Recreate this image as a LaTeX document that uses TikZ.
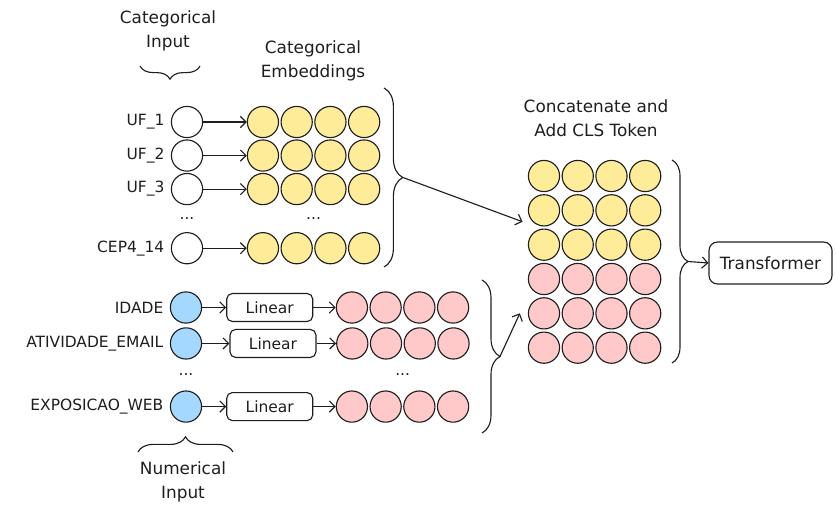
\documentclass[tikz,border=0pt]{standalone}
\usepackage{fontspec}
\setmainfont{DejaVu Sans}
\usepackage{tikz}
\usetikzlibrary{positioning, calc, arrows.meta, decorations.pathreplacing}

\definecolor{ink}{HTML}{1E1E1E}
\definecolor{catyellow}{HTML}{FFEC99}
\definecolor{numpink}{HTML}{FFC9C9}
\definecolor{numblue}{HTML}{A5D8FF}

\begin{document}
\begin{tikzpicture}[
    x=0.025cm, y=-0.025cm,
    every node/.style={text=ink},
    vec/.style={circle, draw=ink, line width=0.8pt, minimum size=0.78cm, inner sep=0pt},
    catvec/.style={vec, fill=white},
    numvec/.style={vec, fill=numblue},
    embcat/.style={vec, fill=catyellow},
    embnum/.style={vec, fill=numpink},
    op/.style={rectangle, rounded corners=4pt, draw=ink, line width=0.8pt, minimum width=2.15cm, minimum height=0.7cm, font=\fontsize{11}{13}\selectfont},
    feat/.style={inner sep=1pt, font=\fontsize{11}{13}\selectfont},
    head/.style={align=center, font=\fontsize{12}{17}\selectfont},
    arr/.style={draw=ink, line width=0.8pt, -{Straight Barb[length=4pt, width=8pt]}},
    brc/.style={draw=ink, line width=0.8pt, decorate, decoration={brace, amplitude=#1}},
    ]
   \useasboundingbox (0,0) rectangle (836,507);

   % Categorical input.
   \node[catvec] (uf1) at (187,122) {};
   \node[catvec, below=0.03cm of uf1] (uf2) {};
   \node[catvec, below=0.03cm of uf2] (uf3) {};
   \node[catvec, below=0.67cm of uf3] (cep) {};
   \node[feat] (catdots) at ($(uf3)!0.5!(cep)$) {...};
   \node[feat, left=0.12cm of uf1] (uf1_l) {UF\_1};
   \node[feat, left=0.12cm of uf2] (uf2_l) {UF\_2};
   \node[feat, left=0.12cm of uf3] (uf3_l) {UF\_3};
   \node[feat, left=0.12cm of cep] (cep_l) {CEP4\_14};

   % Categorical embeddings.
   \node[embcat, right=1.09cm of uf1] (e11) {};
   \node[embcat, right=0.035cm of e11] (e12) {};
   \node[embcat, right=0.035cm of e12] (e13) {};
   \node[embcat, right=0.035cm of e13] (e14) {};
   \node[embcat, right=1.09cm of uf2] (e21) {};
   \node[embcat, right=0.035cm of e21] (e22) {};
   \node[embcat, right=0.035cm of e22] (e23) {};
   \node[embcat, right=0.035cm of e23] (e24) {};
   \node[embcat, right=1.09cm of uf3] (e31) {};
   \node[embcat, right=0.035cm of e31] (e32) {};
   \node[embcat, right=0.035cm of e32] (e33) {};
   \node[embcat, right=0.035cm of e33] (e34) {};
   \node[embcat, right=1.09cm of cep] (e41) {};
   \node[embcat, right=0.035cm of e41] (e42) {};
   \node[embcat, right=0.035cm of e42] (e43) {};
   \node[embcat, right=0.035cm of e43] (e44) {};
   \node[feat] (embdots) at ($(e32)!0.5!(e43)$) {...};

   \draw[arr] (uf1) -- (e11);
   \draw[arr] (uf2) -- (e21);
   \draw[arr] (uf3) -- (e31);
   \draw[arr] (cep) -- (e41);

   % Numerical input.
   \node[numvec] (idade) at (186,307.5) {};
   \node[numvec, below=0.09cm of idade] (ativ) {};
   \node[numvec, below=0.77cm of ativ] (expo) {};
   \node[feat] (numdots) at ($(ativ)!0.5!(expo)$) {...};
   \node[feat, left=0.12cm of idade] (idade_l) {IDADE};
   \node[feat, left=0.12cm of ativ] (ativ_l) {ATIVIDADE\_EMAIL};
   \node[feat, left=0.12cm of expo] (expo_l) {EXPOSICAO\_WEB};

   \node[op, right=0.6cm of idade] (lin1) {Linear};
   \node[op, right=0.68cm of ativ] (lin2) {Linear};
   \node[op, right=0.6cm of expo] (lin3) {Linear};

   \node[embnum, right=0.56cm of lin1] (p11) {};
   \node[embnum, right=0.035cm of p11] (p12) {};
   \node[embnum, right=0.035cm of p12] (p13) {};
   \node[embnum, right=0.035cm of p13] (p14) {};
   \node[embnum, right=0.49cm of lin2] (p21) {};
   \node[embnum, right=0.035cm of p21] (p22) {};
   \node[embnum, right=0.035cm of p22] (p23) {};
   \node[embnum, right=0.035cm of p23] (p24) {};
   \node[embnum, right=0.56cm of lin3] (p31) {};
   \node[embnum, right=0.035cm of p31] (p32) {};
   \node[embnum, right=0.035cm of p32] (p33) {};
   \node[embnum, right=0.035cm of p33] (p34) {};
   \node[feat] (pinkdots) at ($(p22)!0.5!(p33)$) {...};

   \draw[arr] (idade) -- (lin1);
   \draw[arr] (ativ) -- (lin2);
   \draw[arr] (expo) -- (lin3);
   \draw[arr] (lin1) -- (p11);
   \draw[arr] (lin2) -- (p21);
   \draw[arr] (lin3) -- (p31);

   % Concatenated tokens.
   \node[embcat] (c11) at (544,176) {};
   \node[embcat, right=0.035cm of c11] (c12) {};
   \node[embcat, right=0.035cm of c12] (c13) {};
   \node[embcat, right=0.035cm of c13] (c14) {};
   \node[embcat, below=0.05cm of c11] (c21) {};
   \node[embcat, right=0.035cm of c21] (c22) {};
   \node[embcat, right=0.035cm of c22] (c23) {};
   \node[embcat, right=0.035cm of c23] (c24) {};
   \node[embcat, below=0.05cm of c21] (c31) {};
   \node[embcat, right=0.035cm of c31] (c32) {};
   \node[embcat, right=0.035cm of c32] (c33) {};
   \node[embcat, right=0.035cm of c33] (c34) {};
   \node[embnum, below=0.05cm of c31] (c41) {};
   \node[embnum, right=0.035cm of c41] (c42) {};
   \node[embnum, right=0.035cm of c42] (c43) {};
   \node[embnum, right=0.035cm of c43] (c44) {};
   \node[embnum, below=0.05cm of c41] (c51) {};
   \node[embnum, right=0.035cm of c51] (c52) {};
   \node[embnum, right=0.035cm of c52] (c53) {};
   \node[embnum, right=0.035cm of c53] (c54) {};
   \node[embnum, below=0.05cm of c51] (c61) {};
   \node[embnum, right=0.035cm of c61] (c62) {};
   \node[embnum, right=0.035cm of c62] (c63) {};
   \node[embnum, right=0.035cm of c63] (c64) {};

   \node[op, minimum width=3.075cm, minimum height=1.05cm, rounded corners=6pt, font=\fontsize{12}{14}\selectfont] (trans) at (770.5,263) {Transformer};

   % Braces.
   \coordinate (catin_br_r) at (200,66);
   \coordinate (catin_br_l) at (140,66);
   \draw[brc=0.33cm] (catin_br_r) -- (catin_br_l);
   \coordinate (numin_br_l) at (138,452);
   \coordinate (numin_br_r) at (233,452);
   \draw[brc=0.38cm] (numin_br_l) -- (numin_br_r);

   \coordinate (catbr_top) at (384,88);
   \coordinate (catbr_bot) at (384,267);
   \coordinate (catbr_tip) at (403,177.5);
   \draw[brc=0.47cm] (catbr_top) -- (catbr_bot);
   \coordinate (numbr_top) at (482,280);
   \coordinate (numbr_bot) at (482,433);
   \coordinate (numbr_tip) at (500,356.5);
   \draw[brc=0.45cm] (numbr_top) -- (numbr_bot);
   \coordinate (conbr_top) at (672,160);
   \coordinate (conbr_bot) at (672,363);
   \coordinate (conbr_tip) at (688,261.5);
   \draw[brc=0.4cm] (conbr_top) -- (conbr_bot);

   \draw[arr] (catbr_tip) -- ([xshift=-0.25cm]c21.south west);
   \draw[arr] (numbr_tip) -- ([xshift=-0.2cm]c51.west);
   \draw[arr] (conbr_tip) -- (trans.west);

   % Headings.
   \node[head] (catin_t) at (168,31) {Categorical\\Input};
   \node[head] (catemb_t) at (313,61) {Categorical\\Embeddings};
   \node[head] (concat_t) at (596,118) {Concatenate and\\Add CLS Token};
   \node[head] (numin_t) at (183,482) {Numerical\\Input};

\end{tikzpicture}
\end{document}
